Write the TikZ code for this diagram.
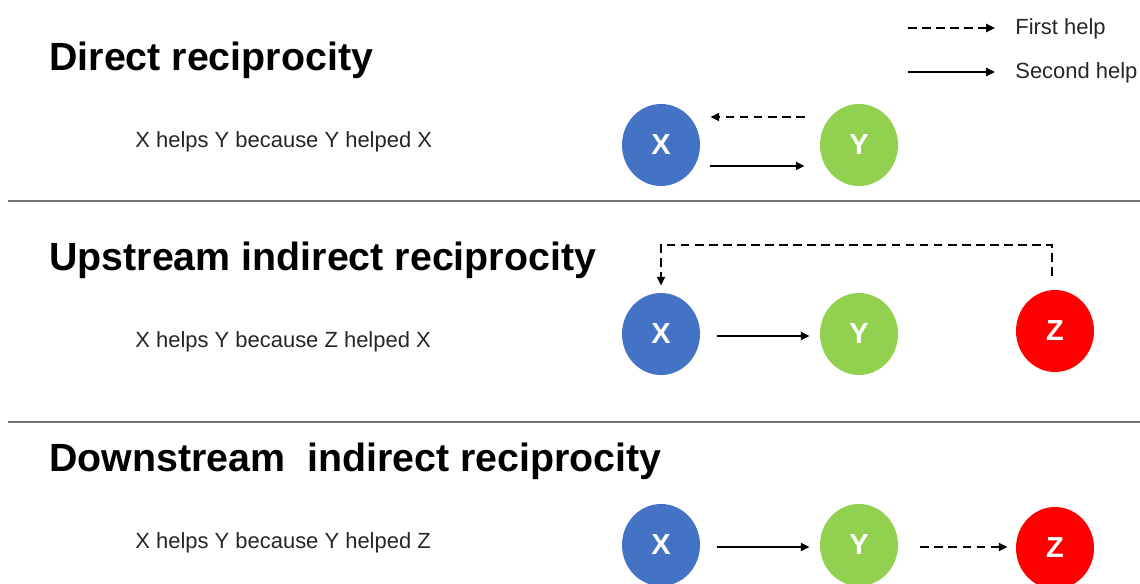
\documentclass[tikz,border=0pt]{standalone}
\usepackage{fontspec}
\setmainfont{Liberation Sans}
\usetikzlibrary{arrows.meta,shapes.geometric,positioning}

\begin{document}
\begin{tikzpicture}[x=0.02cm,y=-0.02cm,
				agent/.style={ellipse,minimum width=1.56cm,minimum height=1.64cm,inner sep=0pt,
					text=white,font=\fontsize{16.5}{18}\selectfont\bfseries},
				title/.style={anchor=base west,inner sep=0pt,font=\fontsize{22.4}{26}\selectfont\bfseries},
				txt/.style={anchor=base west,inner sep=0pt,font=\fontsize{12.5}{15}\selectfont,text=black!85},
				firsthelp/.style={draw,line width=1.3pt,dash pattern=on 5pt off 3pt,-{Triangle[length=5pt,width=4.5pt]}},
				secondhelp/.style={draw,line width=1.3pt,-{Triangle[length=5pt,width=4.5pt]}},
				sep/.style={draw,line width=0.8pt,black!55}]
			\useasboundingbox (0,0) rectangle (1140,584);
			% legend
			\coordinate (lg1a) at (908,28);
			\coordinate (lg1b) at (995,28);
			\coordinate (lg2a) at (908,72);
			\coordinate (lg2b) at (995,72);
			\draw[firsthelp] (lg1a) -- (lg1b);
			\draw[secondhelp] (lg2a) -- (lg2b);
			\node [txt] (lgfirst) at (1015,35) {First help};
			\node [txt] (lgsecond) at (1015,79) {Second help};
			% separators
			\coordinate (sep1a) at (8,201);
			\coordinate (sep1b) at (1140,201);
			\coordinate (sep2a) at (8,422);
			\coordinate (sep2b) at (1140,422);
			\draw[sep] (sep1a) -- (sep1b);
			\draw[sep] (sep2a) -- (sep2b);
			% direct
			\node [title] (direct) at (49,71) {Direct reciprocity};
			\node [txt] (directtxt) at (135,148) {X helps Y because Y helped X};
			\node [agent,fill={rgb,255:red,68;green,114;blue,196}] (X1) at (661,145) {X};
			\node [agent,fill={rgb,255:red,146;green,208;blue,80}] (Y1) at (859,145) {Y};
			\draw[firsthelp,shorten <=0.3cm,shorten >=0.2cm] ([yshift=0.56cm]Y1.west) -- ([yshift=0.56cm]X1.east);
			\draw[secondhelp,shorten <=0.2cm,shorten >=0.3cm] ([yshift=-0.42cm]X1.east) -- ([yshift=-0.42cm]Y1.west);
			% upstream
			\node [title] (upstream) at (49,271) {Upstream indirect reciprocity};
			\node [txt] (upstreamtxt) at (135,348) {X helps Y because Z helped X};
			\node [agent,fill={rgb,255:red,68;green,114;blue,196}] (X2) at (661,334) {X};
			\node [agent,fill={rgb,255:red,146;green,208;blue,80}] (Y2) at (859,334) {Y};
			\node [agent,fill=red] (Z2) at (1055,331) {Z};
			\draw[secondhelp,shorten <=0.34cm,shorten >=0.2cm] ([yshift=-0.04cm]X2.east) -- ([yshift=-0.04cm]Y2.west);
			\draw[firsthelp] ([xshift=-0.06cm,yshift=0.28cm]Z2.north) -- ++(0,-31) -| ([yshift=0.14cm]X2.north);
			% downstream
			\node [title] (downstream) at (49,471) {Downstream\ \ indirect reciprocity};
			\node [txt] (downstreamtxt) at (135,548) {X helps Y because Y helped Z};
			\node [agent,fill={rgb,255:red,68;green,114;blue,196}] (X3) at (661,545) {X};
			\node [agent,fill={rgb,255:red,146;green,208;blue,80}] (Y3) at (859,545) {Y};
			\node [agent,fill=red] (Z3) at (1055,548) {Z};
			\draw[secondhelp,shorten <=0.34cm,shorten >=0.2cm] ([yshift=-0.04cm]X3.east) -- ([yshift=-0.04cm]Y3.west);
			\draw[firsthelp,shorten <=0.44cm,shorten >=0.16cm] ([yshift=-0.04cm]Y3.east) -- ([yshift=-0.04cm]Y3.east -| Z3.west);
		\end{tikzpicture}
\end{document}
